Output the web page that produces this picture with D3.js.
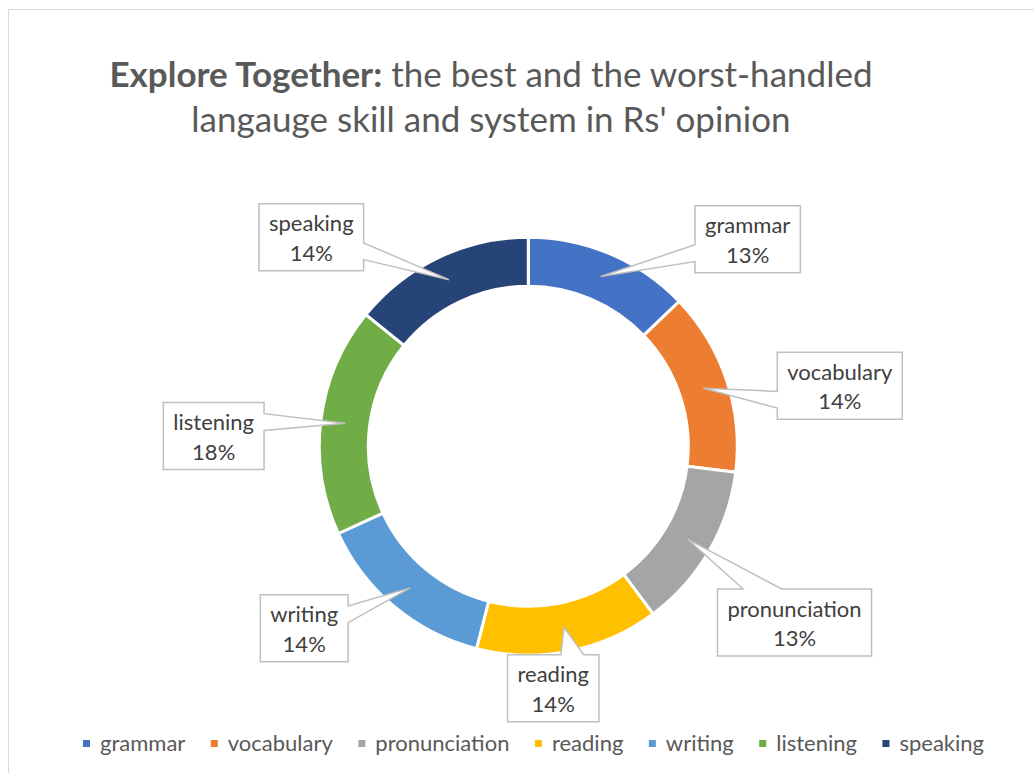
<!DOCTYPE html>
<html><head><meta charset="utf-8">
<script src="https://cdn.jsdelivr.net/npm/d3@7"></script>
<style>
html,body{margin:0;padding:0;background:#fff;}
svg{display:block;font-family:Lato,"Open Sans",sans-serif;}
</style></head>
<body>
<svg id="chart" width="1034" height="773"></svg>
<script>
// ---- data ----
const categories = ["grammar","vocabulary","pronunciation","reading","writing","listening","speaking"];
const values = [29, 32, 29, 32, 32, 40, 32];
const colors = ["#4472C4","#ED7D31","#A5A5A5","#FFC000","#5B9BD5","#70AD47","#264478"];
const titleBold = "Explore Together:";
const titleRest = " the best and the worst-handled";
const titleLine2 = "langauge skill and system in Rs' opinion";

// ---- layout (not data) ----
const cx = 528.3, cy = 446.2, rOuter = 209, rInner = 160;
// data-label box centres relative to the donut centre
const labelOffsets = [[219.4,-207],[311.5,-60.4],[266.2,176.3],[24.9,242.1],[-224.1,182.1],[-314.6,-10.2],[-217,-208.9]];

const svg = d3.select("#chart");
svg.append("rect").attr("x",8.5).attr("y",9.5).attr("width",1040).attr("height",790)
  .attr("fill","#fff").attr("stroke","#d9d9d9").attr("stroke-width",1);

// title
const t = svg.append("text").attr("x",491).attr("y",87).attr("text-anchor","middle")
  .attr("fill","#595959").attr("font-size",35);
t.append("tspan").attr("font-weight","bold").text(titleBold);
t.append("tspan").text(titleRest);
svg.append("text").attr("x",491).attr("y",132).attr("text-anchor","middle")
  .attr("fill","#595959").attr("font-size",35).text(titleLine2);

// donut
const data = categories.map((c,i)=>({cat:c, value:values[i], color:colors[i], idx:i}));
const total = d3.sum(values);
const pie = d3.pie().value(d=>d.value).sort(null);
const arcs = pie(data);
const arc = d3.arc().innerRadius(rInner).outerRadius(rOuter);
const g = svg.append("g").attr("transform",`translate(${cx},${cy})`);
g.selectAll("path.slice").data(arcs).join("path").attr("class","slice")
  .attr("d",arc).attr("fill",d=>d.data.color)
  .attr("stroke","#fff").attr("stroke-width",3).attr("stroke-linejoin","round");

// callout labels (wedgeRectCallout)
function calloutPath(l,tp,w,h,tipX,tipY){
  const r=l+w, b=tp+h, hc=l+w/2, vc=tp+h/2;
  const dxPos=tipX-hc, dyPos=tipY-vc;
  const dq=dxPos*h/w, dz=Math.abs(dyPos)-Math.abs(dq);
  const xg1=dxPos>0?7:2, xg2=dxPos>0?10:5;
  const yg1=dyPos>0?7:2, yg2=dyPos>0?10:5;
  const x1=l+w*xg1/12, x2=l+w*xg2/12, y1=tp+h*yg1/12, y2=tp+h*yg2/12;
  let p=`M${l},${tp}`;
  if(dz>0 && dyPos<0) p+=`L${x1},${tp}L${tipX},${tipY}L${x2},${tp}`;
  p+=`L${r},${tp}`;
  if(dz<=0 && dxPos>0) p+=`L${r},${y1}L${tipX},${tipY}L${r},${y2}`;
  p+=`L${r},${b}`;
  if(dz>0 && dyPos>0) p+=`L${x2},${b}L${tipX},${tipY}L${x1},${b}`;
  p+=`L${l},${b}`;
  if(dz<=0 && dxPos<0) p+=`L${l},${y2}L${tipX},${tipY}L${l},${y1}`;
  return p+"Z";
}
const lblG = svg.append("g");
arcs.forEach((a,i)=>{
  const pct = Math.round(a.data.value/total*100)+"%";
  const [mx,my] = arc.centroid(a);
  const tipX = cx+mx, tipY = cy+my;
  const bx = cx+labelOffsets[i][0], by = cy+labelOffsets[i][1];
  const gi = lblG.append("g");
  const path = gi.append("path").attr("fill","#fff").attr("stroke","#bfbfbf").attr("stroke-width",1.5);
  const t1 = gi.append("text").attr("text-anchor","middle").attr("font-size",22).attr("fill","#404040")
    .attr("x",bx).attr("y",by-5.9).text(a.data.cat);
  const t2 = gi.append("text").attr("text-anchor","middle").attr("font-size",22).attr("fill","#404040")
    .attr("x",bx).attr("y",by+23.5).text(pct);
  const w = Math.max(t1.node().getComputedTextLength(), t2.node().getComputedTextLength())+20;
  const h = 67;
  path.attr("d",calloutPath(bx-w/2,by-h/2,w,h,tipX,tipY));
});

// legend
const leg = svg.append("g");
let x = 0;
data.forEach(d=>{
  const it = leg.append("g");
  it.append("rect").attr("x",x).attr("y",740).attr("width",7).attr("height",7).attr("fill",d.color);
  const tx = it.append("text").attr("x",x+17).attr("y",751).attr("font-size",22).attr("fill","#595959").text(d.cat);
  x += 17 + tx.node().getComputedTextLength() + 25.5;
});
const legW = x - 25.5;
leg.attr("transform",`translate(${533.5-legW/2},0)`);
</script>
</body></html>
